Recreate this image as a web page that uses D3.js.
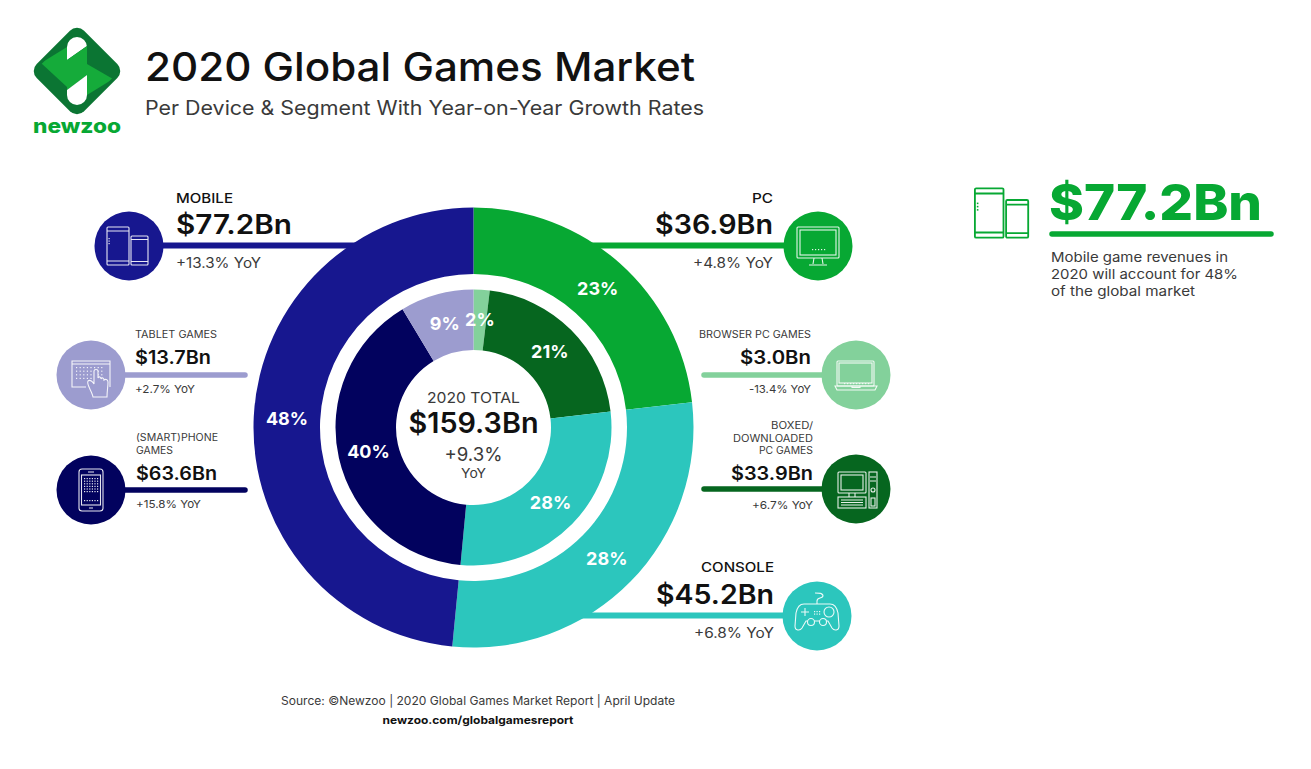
<!DOCTYPE html>
<html>
<head>
<meta charset="utf-8">
<script src="https://cdnjs.cloudflare.com/ajax/libs/d3/7.8.5/d3.min.js"></script>
<style>
    html, body { margin: 0; padding: 0; background: #fff; }
    svg { display: block; }
    text { font-family: Inter, "Open Sans", sans-serif; }
</style>
</head>
<body>
<svg id="chart" width="1311" height="769"></svg>
<script>
// values, clockwise from 12 o'clock
var deviceNames = ["PC", "CONSOLE", "MOBILE"];
var deviceValues = [36.9, 45.2, 77.2];
var devicePercents = ["23%", "28%", "48%"];
var deviceGrowth = ["+4.8% YoY", "+6.8% YoY", "+13.3% YoY"];

var segmentNames = [["BROWSER PC GAMES"], ["BOXED/", "DOWNLOADED", "PC GAMES"], ["CONSOLE"], ["(SMART)PHONE", "GAMES"], ["TABLET GAMES"]];
var segmentValues = [3.0, 33.9, 45.2, 63.6, 13.7];
var segmentPercents = ["2%", "21%", "28%", "40%", "9%"];
var segmentGrowth = ["-13.4% YoY", "+6.7% YoY", "+6.8% YoY", "+15.8% YoY", "+2.7% YoY"];

var totalValue = 159.3;
var totalGrowth = "+9.3%";
var noteLines = ["Mobile game revenues in", "2020 will account for 48%", "of the global market"];

var money = function(v) { return "$" + v.toFixed(1) + "Bn"; };

var deviceColors = ["#07a833", "#2cc6bd", "#17178f"];
var segmentColors = ["#83d19b", "#06661f", "#2cc6bd", "#02025e", "#9c9ccf"];
var textDark = "#111";
var textGrey = "#3a3a3a";
var green = "#07a833";

var svg = d3.select("#chart");
var cx = 473.5, cy = 427.5;

// ---- leaders go first so the rings sit on top of them
function leader(x1, x2, y, color, w) {
    svg.append("line").attr("x1", x1).attr("x2", x2).attr("y1", y).attr("y2", y)
        .attr("stroke", color).attr("stroke-width", w).attr("stroke-linecap", "round");
}
leader(129, 460, 245.5, deviceColors[2], 6);
leader(490, 818, 245.5, deviceColors[0], 6);
leader(500, 817, 615.5, deviceColors[1], 6);
leader(91, 245, 375, segmentColors[4], 5.5);
leader(91, 245, 490, segmentColors[3], 5.5);
leader(704, 856, 375, segmentColors[0], 5.5);
leader(704, 856, 489, segmentColors[1], 5.5);

// ---- the two rings
var pie = d3.pie().sort(null).value(function(d) { return d; });
var outerArc = d3.arc().innerRadius(153.5).outerRadius(220);
var innerArc = d3.arc().innerRadius(77.5).outerRadius(138);

var rings = svg.append("g").attr("transform", "translate(" + cx + "," + cy + ")");

rings.selectAll("path.outer").data(pie(deviceValues)).enter().append("path")
    .attr("class", "outer")
    .attr("d", outerArc)
    .attr("fill", function(d, i) { return deviceColors[i]; });

rings.selectAll("path.inner").data(pie(segmentValues)).enter().append("path")
    .attr("class", "inner")
    .attr("d", innerArc)
    .attr("fill", function(d, i) { return segmentColors[i]; });

function pctLabels(data, arc, labels, size) {
    rings.selectAll(null).data(data).enter().append("text")
        .attr("x", function(d) { return arc.centroid(d)[0]; })
        .attr("y", function(d) { return arc.centroid(d)[1]; })
        .attr("dy", "0.36em")
        .attr("text-anchor", "middle")
        .attr("fill", "#fff")
        .attr("font-size", size)
        .attr("font-weight", 700)
        .text(function(d, i) { return labels[i]; });
}
pctLabels(pie(deviceValues), outerArc, devicePercents, 18);
pctLabels(pie(segmentValues), innerArc, segmentPercents, 18);

// width stretches the glyphs, the original face is wider than anything installed
function label(x, y, str, size, weight, color, anchor, width) {
    var t = svg.append("text").attr("x", x).attr("y", y).text(str)
        .attr("font-size", size).attr("font-weight", weight)
        .attr("fill", color).attr("text-anchor", anchor || "start");
    if (width) t.attr("textLength", width).attr("lengthAdjust", "spacingAndGlyphs");
    return t;
}

// ---- centre
label(cx, 403, "2020 TOTAL", 14.5, 400, textGrey, "middle", 93);
label(cx, 433, money(totalValue), 28, 600, textDark, "middle", 130);
label(cx, 461, totalGrowth, 18.5, 400, textGrey, "middle", 58);
label(cx, 478, "YoY", 13, 400, textGrey, "middle", 25);

// ---- callouts
function callout(x, anchor, nameLines, nameYs, value, growth, valueY, growthY, sizes, nameWeight, widths) {
    nameLines.forEach(function(n, i) {
        label(x, nameYs[i], n, sizes[0], nameWeight, nameWeight > 400 ? textDark : textGrey, anchor, widths[0][i]);
    });
    label(x, valueY, money(value), sizes[1], 600, textDark, anchor, widths[1]);
    label(x, growthY, growth, sizes[2], 400, textGrey, anchor, widths[2]);
}
var bigSizes = [13, 26.5, 14], smallSizes = [10, 18.5, 11];
callout(176, "start", [deviceNames[2]], [203], deviceValues[2], deviceGrowth[2], 234, 268, bigSizes, 500, [[57], 116, 85]);
callout(773, "end", [deviceNames[0]], [203], deviceValues[0], deviceGrowth[0], 234, 268, bigSizes, 500, [[21], 118, 80]);
callout(774, "end", [deviceNames[1]], [572], deviceValues[1], deviceGrowth[1], 604, 638, bigSizes, 500, [[73], 118, 80]);
callout(135, "start", segmentNames[4], [338], segmentValues[4], segmentGrowth[4], 364, 393, smallSizes, 400, [[82], 76, 60]);
callout(136, "start", segmentNames[3], [441, 454], segmentValues[3], segmentGrowth[3], 480, 508, smallSizes, 400, [[82, 37], 81, 65]);
callout(811, "end", segmentNames[0], [338], segmentValues[0], segmentGrowth[0], 364, 393, smallSizes, 400, [[112], 71, 62]);
callout(813, "end", segmentNames[1], [429, 442, 454], segmentValues[1], segmentGrowth[1], 480, 509, smallSizes, 400, [[42, 80, 54], 82, 61]);

// ---- icons, drawn in a local frame around each badge centre
function badge(x, y, color) {
    svg.append("circle").attr("cx", x).attr("cy", y).attr("r", 34.5).attr("fill", color);
    return svg.append("g").attr("transform", "translate(" + x + "," + y + ")")
        .attr("fill", "none").attr("stroke", "#fff").attr("stroke-width", 1.1).attr("opacity", 0.9);
}
function box(g, x, y, w, h, r) {
    return g.append("rect").attr("x", x).attr("y", y).attr("width", w).attr("height", h).attr("rx", r || 0);
}
function seg(g, d) { return g.append("path").attr("d", d); }
function dots(g, x0, y0, nx, ny, step) {
    d3.range(nx).forEach(function(i) {
        d3.range(ny).forEach(function(j) {
            g.append("rect").attr("x", x0 + i * step).attr("y", y0 + j * step)
                .attr("width", 1.2).attr("height", 1.2).attr("fill", "#fff").attr("stroke", "none");
        });
    });
}
function tabletAndPhone(g) {
    box(g, -22, -19, 22, 38, 1);
    seg(g, "M-22,-15H0M-22,15H0");
    box(g, 2, -10, 17, 29, 1);
    seg(g, "M2,-6.5H19M2,15.5H19");
    dots(g, -20.5, -8, 1, 3, 2.5);
}
tabletAndPhone(badge(129, 246, deviceColors[2]));

var pc = badge(818, 246, deviceColors[0]);
box(pc, -21, -19, 42, 31, 1);
box(pc, -18, -16, 36, 25);
seg(pc, "M-4,12L-5,18M4,12L5,18M-9,19H9");
dots(pc, -6, 3, 5, 1, 3);

var tablet = badge(91, 375, segmentColors[4]);
seg(tablet, "M-5,12H-19V-14H19V12M-19,-11H19");
dots(tablet, -15, -8, 8, 4, 3.6);
seg(tablet.append("g").attr("transform", "translate(5,0)").attr("fill", segmentColors[4]),
    "M-3,22C-4,16 -10,9 -8,6C-6,4 -3,7 -2,9V-4C-2,-6 2,-6 2,-4V3C3,1 5,2 5,4C6,2 8,3 8,5C9,4 12,4 12,7C12,12 11,16 11,22Z");

var phone = badge(91, 490, segmentColors[3]);
box(phone, -12, -21, 24, 42, 3);
box(phone, -9.5, -15, 19, 30, 0);
dots(phone, -7, -12, 6, 6, 2.6);
dots(phone, -7, 10, 6, 1, 2.6);
seg(phone, "M-3,-18H3M-2,18H2");

var laptop = badge(856, 375, segmentColors[0]);
box(laptop, -19, -14, 37, 25, 1);
box(laptop, -17, -12, 33, 20, 0);
seg(laptop, "M-21,11H21L19,15H-19ZM-4,11V12.5H4V11");
dots(laptop, -12, 8, 9, 1, 3);

var desktop = badge(856, 489, segmentColors[1]);
box(desktop, -18, -17, 28, 21, 1);
box(desktop, -15, -14, 22, 15, 0);
seg(desktop, "M-7,4V8M-1,4V8");
box(desktop, -18, 8, 28, 11, 0);
seg(desktop, "M-15,11H7M-15,13.5H7M-15,16H7");
box(desktop, 13, -17, 8, 36, 0);
seg(desktop, "M14,-12H20M14,-8H20");
desktop.append("circle").attr("cx", 17).attr("cy", 1).attr("r", 2);
box(desktop, 15, 9, 4, 8, 0);

var pad = badge(817, 616, deviceColors[1]);
seg(pad, "M-13,-12H13C18,-12 20,-8 21,-3L22,10C22,15 17,15 15,12L11,5H-11L-15,12C-17,15 -22,15 -22,10L-21,-3C-20,-8 -18,-12 -13,-12Z");
seg(pad, "M0,-12V-15C0,-19 5,-17 6,-20C6,-23 2,-23 -2,-23");
seg(pad, "M-16,-4H-8M-12,-8V0");
pad.append("circle").attr("cx", 12).attr("cy", -4).attr("r", 5);
pad.append("circle").attr("cx", -6).attr("cy", 6).attr("r", 3.5).attr("fill", deviceColors[1]);
pad.append("circle").attr("cx", 6).attr("cy", 6).attr("r", 3.5).attr("fill", deviceColors[1]);
dots(pad, -3, -5, 3, 2, 2.5);

// ---- right hand note
var noteIcon = svg.append("g").attr("transform", "translate(1003.5,213) scale(1.3)")
    .attr("fill", "none").attr("stroke", green).attr("stroke-width", 1.4);
tabletAndPhone(noteIcon);
noteIcon.selectAll("rect").filter(function() { return this.getAttribute("stroke") === "none"; }).attr("fill", green);

label(1049, 220, money(deviceValues[2]), 50, 800, green, "start", 213);
svg.append("line").attr("x1", 1052).attr("x2", 1271).attr("y1", 234).attr("y2", 234)
    .attr("stroke", green).attr("stroke-width", 5.5).attr("stroke-linecap", "round");
var noteWidths = [177, 187, 144];
noteLines.forEach(function(t, i) {
    label(1051, 262 + i * 17, t, 13.5, 400, textGrey, "start", noteWidths[i]);
});

// ---- header
var logo = svg.append("g").attr("transform", "translate(77,71)");
logo.append("rect").attr("x", -33.5).attr("y", -33.5).attr("width", 67).attr("height", 67).attr("rx", 10)
    .attr("transform", "rotate(45)").attr("fill", "#0b7533");
var clip = logo.append("clipPath").attr("id", "logoClip");
clip.append("rect").attr("x", -30).attr("y", -30).attr("width", 60).attr("height", 60).attr("rx", 8)
    .attr("transform", "rotate(45)");
var logoIn = logo.append("g").attr("clip-path", "url(#logoClip)");
logoIn.append("path").attr("d", "M-10,-24A10,10 0 0 1 10,-24V-25L-10,-11Z").attr("fill", "#fff");
logoIn.append("path").attr("d", "M-10,-11L10,-25V4L-10,19Z").attr("fill", "#15ab3a");
logoIn.append("path").attr("d", "M-10,19L10,4V24A10,10 0 0 1 -10,24Z").attr("fill", "#fff");
logoIn.append("path").attr("d", "M-10,-24V16L-36,-8Z").attr("fill", "#15ab3a");
logoIn.append("path").attr("d", "M10,24V-7L36,8Z").attr("fill", "#15ab3a");
label(77, 133, "newzoo", 20, 800, green, "middle", 88);

label(145, 81, "2020 Global Games Market", 40, 500, textDark, "start", 550);
label(145, 115, "Per Device & Segment With Year-on-Year Growth Rates", 19.5, 400, textGrey, "start", 559);

// ---- footer
label(478, 705, "Source: ©Newzoo | 2020 Global Games Market Report | April Update", 11.5, 400, textGrey, "middle", 394);
label(478, 724, "newzoo.com/globalgamesreport", 11, 700, textDark, "middle", 191);
</script>
</body>
</html>
